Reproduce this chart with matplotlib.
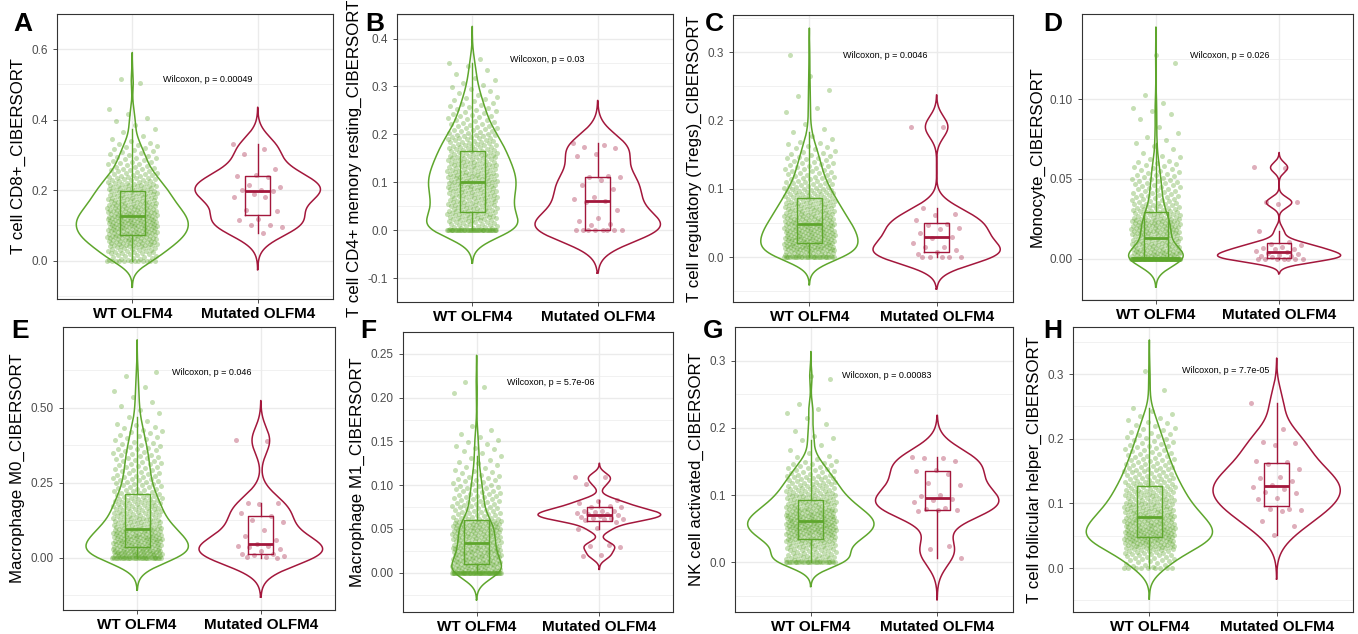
import numpy as np
import matplotlib.pyplot as plt

plt.rcParams['font.family'] = ['Liberation Sans', 'DejaVu Sans']

GROUPS = ["WT OLFM4", "Mutated OLFM4"]
LETTERS = ["A", "B", "C", "D", "E", "F", "G", "H"]
Y_LABELS = [
    "T cell CD8+_CIBERSORT",
    "T cell CD4+ memory resting_CIBERSORT",
    "T cell regulatory (Tregs)_CIBERSORT",
    "Monocyte_CIBERSORT",
    "Macrophage M0_CIBERSORT",
    "Macrophage M1_CIBERSORT",
    "NK cell activated_CIBERSORT",
    "T cell follicular helper_CIBERSORT",
]
P_TEXT = ["0.00049", "0.03", "0.0046", "0.026", "0.046", "5.7e-06", "0.00083", "7.7e-05"]
Y_TICKS = [
    [0.0, 0.2, 0.4, 0.6],
    [-0.1, 0.0, 0.1, 0.2, 0.3, 0.4],
    [0.0, 0.1, 0.2, 0.3],
    [0.0, 0.05, 0.10],
    [0.0, 0.25, 0.50],
    [0.0, 0.05, 0.10, 0.15, 0.20, 0.25],
    [0.0, 0.1, 0.2, 0.3],
    [0.0, 0.1, 0.2, 0.3],
]
Y_FMT = ["%.1f", "%.1f", "%.1f", "%.2f", "%.2f", "%.2f", "%.1f", "%.1f"]

# WT groups: number of exact zeros, bin width, sample counts per bin (from 0 upward)
A_WT_ZEROS, A_WT_BIN = 12, 0.02
A_WT_COUNTS = [14, 20, 30, 34, 36, 38, 34, 30, 26, 24, 22, 17, 13, 10, 9, 7, 6, 2, 2, 2, 2, 1, 0, 0, 0, 2]
B_WT_ZEROS, B_WT_BIN = 45, 0.02
B_WT_COUNTS = [24, 32, 30, 30, 34, 34, 30, 28, 24, 22, 15, 12, 10, 8, 5, 4, 2, 3]
C_WT_ZEROS, C_WT_BIN = 25, 0.01
C_WT_COUNTS = [30, 40, 38, 36, 34, 30, 26, 24, 20, 18, 14, 12, 10, 9, 8, 6, 5, 2, 2, 1,
               0, 2, 0, 1, 1, 0, 1, 0, 0, 1]
D_WT_ZEROS, D_WT_BIN = 110, 0.005
D_WT_COUNTS = [40, 32, 28, 34, 34, 22, 18, 14, 12, 12, 10, 8, 5, 2, 3, 2, 1, 1, 3, 1,
               1, 0, 0, 0, 1, 1]
E_WT_ZEROS, E_WT_BIN = 30, 0.025
E_WT_COUNTS = [55, 40, 42, 36, 24, 22, 20, 20, 14, 12, 12, 10, 10, 10, 8, 7, 6, 5, 2, 2,
               2, 1, 2, 0, 2]
F_WT_ZEROS, F_WT_BIN = 55, 0.01
F_WT_COUNTS = [45, 42, 42, 34, 38, 38, 18, 16, 14, 12, 10, 7, 5, 4, 5, 3, 2, 0, 0, 0, 1, 2]
G_WT_ZEROS, G_WT_BIN = 25, 0.01
G_WT_COUNTS = [22, 18, 22, 30, 36, 40, 38, 32, 26, 22, 18, 16, 14, 10, 8, 4, 2, 1, 3, 1,
               1, 1, 2, 1, 0, 0, 0, 2]
H_WT_ZEROS, H_WT_BIN = 8, 0.01
H_WT_COUNTS = [8, 12, 16, 28, 34, 34, 30, 28, 24, 22, 18, 18, 16, 14, 12, 12, 10, 9, 8, 7,
               6, 5, 4, 3, 2, 0, 0, 1, 0, 0, 1]

# Mutated groups: individual samples
A_MUT = [0.331, 0.317, 0.304, 0.261, 0.243, 0.240, 0.238, 0.214, 0.208, 0.200, 0.200, 0.197,
         0.190, 0.182, 0.182, 0.145, 0.140, 0.118, 0.115, 0.102, 0.102, 0.095, 0.079]
B_MUT = [0.181, 0.178, 0.173, 0.172, 0.160, 0.154, 0.113, 0.111, 0.110, 0.105, 0.095, 0.086,
         0.070, 0.065, 0.060, 0.058, 0.042, 0.026, 0.020, 0.012, 0.011, 0, 0, 0, 0, 0, 0, 0, 0]
C_MUT = [0.191, 0.190, 0.0726, 0.063, 0.062, 0.055, 0.049, 0.0476, 0.042, 0.041, 0.035, 0.030,
         0.028, 0.0207, 0.015, 0.0144, 0.010, 0.0077, 0.005, 0, 0, 0, 0, 0]
D_MUT = [0.0572, 0.0570, 0.0358, 0.0354, 0.0346, 0.0172, 0.0106, 0.0095, 0.0085, 0.0076,
         0.0070, 0.0062, 0.0060, 0.0050, 0.0040, 0.0036, 0.0030, 0.0026, 0.0020, 0.0015,
         0.0010, 0, 0, 0, 0, 0, 0, 0]
E_MUT = [0.392, 0.390, 0.183, 0.181, 0.180, 0.148, 0.138, 0.126, 0.119, 0.091, 0.072, 0.058,
         0.045, 0.040, 0.038, 0.034, 0.029, 0.023, 0.013, 0.011, 0.007, 0.004, 0.003, 0.002, 0.0]
F_MUT = [0.1094, 0.109, 0.101, 0.083, 0.082, 0.080, 0.076, 0.075, 0.075, 0.071, 0.0706, 0.070,
         0.069, 0.068, 0.0675, 0.067, 0.066, 0.0647, 0.064, 0.063, 0.062, 0.0615, 0.061, 0.060,
         0.0577, 0.0507, 0.0497, 0.0315, 0.0304, 0.029, 0.020, 0.0196]
G_MUT = [0.157, 0.155, 0.155, 0.151, 0.137, 0.136, 0.132, 0.118, 0.115, 0.0995, 0.098, 0.094,
         0.093, 0.090, 0.080, 0.079, 0.078, 0.077, 0.076, 0.024, 0.020, 0.006]
H_MUT = [0.256, 0.215, 0.195, 0.193, 0.190, 0.165, 0.164, 0.161, 0.153, 0.141, 0.139, 0.135,
         0.128, 0.125, 0.123, 0.117, 0.116, 0.109, 0.107, 0.092, 0.091, 0.090, 0.089, 0.073,
         0.065, 0.052]

WT_ZEROS = [A_WT_ZEROS, B_WT_ZEROS, C_WT_ZEROS, D_WT_ZEROS, E_WT_ZEROS, F_WT_ZEROS, G_WT_ZEROS, H_WT_ZEROS]
WT_BINS = [A_WT_BIN, B_WT_BIN, C_WT_BIN, D_WT_BIN, E_WT_BIN, F_WT_BIN, G_WT_BIN, H_WT_BIN]
WT_COUNTS = [A_WT_COUNTS, B_WT_COUNTS, C_WT_COUNTS, D_WT_COUNTS, E_WT_COUNTS, F_WT_COUNTS, G_WT_COUNTS, H_WT_COUNTS]
MUT = [A_MUT, B_MUT, C_MUT, D_MUT, E_MUT, F_MUT, G_MUT, H_MUT]

COLORS = ["#5ea62c", "#a3173c"]
W, H = 1358, 634
# panel boxes in pixels: left, top, right, bottom
BOXES = [(57, 14, 333, 299), (397, 14, 673, 302), (733, 15, 1013, 302), (1082, 14, 1353, 300),
         (63, 327, 335, 610), (403, 332, 673, 612), (735, 327, 1013, 612), (1073, 327, 1353, 612)]
LETTER_POS = [(13, 31), (365, 31), (705, 31), (1043, 31), (11, 338), (360, 338), (703, 338), (1043, 338)]


def expand_bins(zeros, width, counts):
    vals = [0.0] * zeros
    for i, c in enumerate(counts):
        vals += [i * width + (j + 0.5) * width / c for j in range(c)]
    return np.array(vals)


def bw_nrd0(x):
    sd = x.std(ddof=1)
    q1, q3 = np.percentile(x, [25, 75])
    lo = min(sd, (q3 - q1) / 1.34)
    if lo <= 0:
        lo = sd
    return 0.9 * lo * len(x) ** -0.2


def density(x):
    bw = bw_nrd0(x)
    grid = np.linspace(x.min() - 3 * bw, x.max() + 3 * bw, 512)
    z = (grid[:, None] - x[None, :]) / bw
    d = np.exp(-0.5 * z ** 2).sum(axis=1) / (len(x) * bw * np.sqrt(2 * np.pi))
    return grid, d


def jitter(n):
    return ((np.arange(n) * 0.6180339887) % 1 - 0.5) * 0.4


def box(ax, pos, x, color):
    q1, med, q3 = np.percentile(x, [25, 50, 75])
    iqr = q3 - q1
    lo = x[x >= q1 - 1.5 * iqr].min()
    hi = x[x <= q3 + 1.5 * iqr].max()
    hw = 0.1
    ax.plot([pos - hw, pos + hw, pos + hw, pos - hw, pos - hw], [q1, q1, q3, q3, q1],
            color=color, lw=1.0, zorder=4)
    ax.plot([pos - hw, pos + hw], [med, med], color=color, lw=2.0, zorder=4, solid_capstyle='butt')
    ax.plot([pos, pos], [q3, hi], color=color, lw=1.0, zorder=4)
    ax.plot([pos, pos], [lo, q1], color=color, lw=1.0, zorder=4)


fig = plt.figure(figsize=(W / 100, H / 100), dpi=100)

for k in range(8):
    l, t, r, b = BOXES[k]
    ax = fig.add_axes([l / W, 1 - b / H, (r - l) / W, (b - t) / H])
    data = [expand_bins(WT_ZEROS[k], WT_BINS[k], WT_COUNTS[k]), np.array(MUT[k])]

    dens = [density(x) for x in data]
    dmax = max(d.max() for _, d in dens)
    lo_all = min(g.min() for g, _ in dens)
    hi_all = max(g.max() for g, _ in dens)

    for i, (x, (g, d)) in enumerate(zip(data, dens)):
        pos = i + 1
        hw = d / dmax * 0.5
        ax.plot(np.concatenate([pos - hw, (pos + hw)[::-1], [pos - hw[0]]]),
                np.concatenate([g, g[::-1], [g[0]]]), color=COLORS[i], lw=1.1, zorder=2)
        ax.scatter(pos + jitter(len(x)), x, s=13, color=COLORS[i], alpha=0.35,
                   linewidths=0, zorder=3)
        box(ax, pos, x, COLORS[i])

    ymax = max(x.max() for x in data)
    ax.text(1.6, ymax, "Wilcoxon, p = " + P_TEXT[k], ha='center', va='center', fontsize=6.5)

    span = hi_all - lo_all
    ax.set_ylim(lo_all - 0.05 * span, hi_all + 0.05 * span)
    ax.set_xlim(0.4, 2.6)

    ticks = Y_TICKS[k]
    step = ticks[1] - ticks[0]
    ax.set_yticks(ticks)
    ax.set_yticklabels([Y_FMT[k] % v for v in ticks])
    minor = [ticks[0] - step / 2] + [v + step / 2 for v in ticks]
    ax.set_yticks(minor, minor=True)
    ax.set_xticks([1, 2])
    ax.set_xticklabels(GROUPS, fontsize=11, fontweight='bold', color='black')
    ax.set_ylabel(Y_LABELS[k], fontsize=12.2, color='black')

    ax.grid(True, which='major', color='#ebebeb', lw=1.0, zorder=0)
    ax.grid(True, which='minor', axis='y', color='#ebebeb', lw=0.5, zorder=0)
    ax.set_axisbelow(True)
    ax.tick_params(axis='y', which='major', labelsize=8.5, labelcolor='#4d4d4d',
                   color='#333333', length=3, width=0.6)
    ax.tick_params(axis='x', which='major', color='#333333', length=3, width=0.6, pad=3)
    ax.tick_params(which='minor', length=0)
    for s in ax.spines.values():
        s.set_color('#333333')
        s.set_linewidth(0.8)

    lx, ly = LETTER_POS[k]
    fig.text(lx / W, 1 - ly / H, LETTERS[k], fontsize=19, fontweight='bold', va='baseline')

fig.savefig("out.png", dpi=100)
